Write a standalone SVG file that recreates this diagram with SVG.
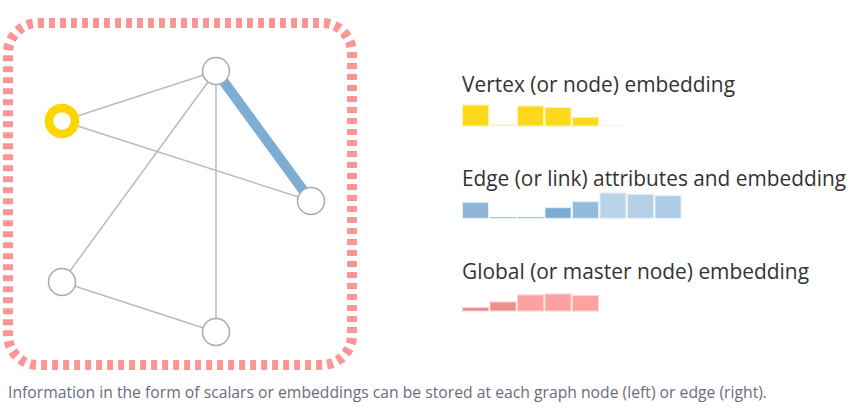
<svg xmlns="http://www.w3.org/2000/svg" width="859" height="414" viewBox="0 0 859 414">
<style>
.edge{stroke:#bbbbbb;stroke-width:1.5;fill:none}
.node{fill:#ffffff;stroke:#aaaaaa;stroke-width:1.5}
.title{font-family:"Open Sans","Liberation Sans",Arial,sans-serif;font-size:22px;fill:#333333}
.cap{font-family:"Open Sans","Liberation Sans",Arial,sans-serif;font-size:16.5px;fill:#6b6b80}
.vb{fill:#fdd91c;stroke:#fff3b0;stroke-width:1}
.eb{stroke:#e3eef8;stroke-width:1}
.gb{stroke:#ffd0d0;stroke-width:1}
</style>
<rect width="859" height="414" fill="#ffffff"/>
<g id="global-border">
<rect x="8" y="23" width="344" height="342" rx="30" ry="30" fill="none" stroke="#fc9696" stroke-width="10" stroke-dasharray="6 5"/>
</g>
<g id="connectors">
<line class="edge" x1="216" y1="71" x2="62" y2="121"/>
<line class="edge" x1="62" y1="121" x2="311" y2="201"/>
<line class="edge" x1="216" y1="71" x2="62" y2="282"/>
<line class="edge" x1="216" y1="71" x2="216" y2="332"/>
<line class="edge" x1="62" y1="282" x2="216" y2="332"/>
<line x1="216" y1="71" x2="311" y2="201" stroke="#7eadd3" stroke-width="10"/>
</g>
<g id="node-top"><circle class="node" cx="216" cy="71" r="13.5"/></g>
<g id="node-yellow"><circle cx="62" cy="121" r="13" fill="#ffffff" stroke="#fdd600" stroke-width="8.5"/></g>
<g id="node-right"><circle class="node" cx="311" cy="201" r="13.5"/></g>
<g id="node-bottom-left"><circle class="node" cx="62" cy="282" r="13.5"/></g>
<g id="node-bottom"><circle class="node" cx="216" cy="332" r="13.5"/></g>
<g id="legend-vertex">
<text class="title" x="462" y="91.5" textLength="273" lengthAdjust="spacingAndGlyphs">Vertex (or node) embedding</text>
<rect class="vb" x="462.5" y="105" width="26" height="21"/>
<rect x="490" y="124.5" width="26" height="1.5" fill="#fbefc0"/>
<rect class="vb" x="517.5" y="106" width="26" height="20"/>
<rect class="vb" x="545" y="107.5" width="26" height="18.5"/>
<rect class="vb" x="572.5" y="117.3" width="26" height="8.7" fill="#f0cb00"/>
<rect x="600" y="125" width="26" height="1" fill="#fbf3d6"/>
</g>
<g id="legend-edge">
<text class="title" x="462" y="186" textLength="384" lengthAdjust="spacingAndGlyphs">Edge (or link) attributes and embedding</text>
<rect class="eb" x="462.5" y="202.3" width="26" height="16" fill="#8fb6d9"/>
<rect x="490" y="217" width="26" height="1.3" fill="#a6c6e3"/>
<rect x="517.5" y="217" width="26" height="1.3" fill="#a6c6e3"/>
<rect class="eb" x="545" y="207.7" width="26" height="10.6" fill="#7aa9d2"/>
<rect class="eb" x="572.5" y="201.7" width="26" height="16.6" fill="#93bbdd"/>
<rect class="eb" x="600" y="193" width="26" height="25.3" fill="#b9d3e8"/>
<rect class="eb" x="627.5" y="194.3" width="26" height="24" fill="#b4cfe6"/>
<rect class="eb" x="655" y="195.7" width="26" height="22.6" fill="#aecbe5"/>
</g>
<g id="legend-global">
<text class="title" x="462" y="278.5" textLength="347" lengthAdjust="spacingAndGlyphs">Global (or master node) embedding</text>
<rect class="gb" x="462.5" y="307.7" width="26" height="3.3" fill="#e88a8a"/>
<rect class="gb" x="490" y="302" width="26" height="9" fill="#ec8e8e"/>
<rect class="gb" x="517.5" y="295" width="26" height="16" fill="#fea1a1"/>
<rect class="gb" x="545" y="294" width="26" height="17" fill="#fea1a1"/>
<rect class="gb" x="572.5" y="295.7" width="26" height="15.3" fill="#fea1a1"/>
</g>
<text class="cap" x="8" y="398" textLength="759" lengthAdjust="spacingAndGlyphs">Information in the form of scalars or embeddings can be stored at each graph node (left) or edge (right).</text>
</svg>
